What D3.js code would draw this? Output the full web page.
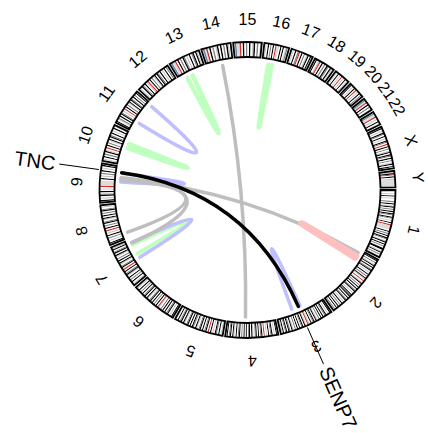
<!DOCTYPE html>
<html><head><meta charset="utf-8">
<script src="https://cdn.jsdelivr.net/npm/d3@7"></script>
<style>body{margin:0;background:#fff}svg{display:block}text{font-family:"Liberation Sans",Arial,Helvetica,sans-serif}</style>
</head><body><svg id="c" width="428" height="433"></svg>
<script>
// ---- data ----
const chromosomes = ["1","2","3","4","5","6","7","8","9","10","11","12","13","14","15","16","17","18","19","20","21","22","X","Y"];
const chromSizes = [249.25,243.20,198.02,191.15,180.92,171.12,159.14,146.36,141.21,135.53,135.01,133.85,115.17,107.35,102.53,90.35,81.20,78.08,59.13,63.03,48.13,51.30,155.27,59.37]; // Mb
// approximate G-band stain sequences (n gneg, l gpos25/50, m gpos75, k gpos100, r acen, v gvar, s stalk)
const bandPatterns = [
 "nlnlnknlnnmnknlknmnknkmnkmnlnknrvvvvnknmnknkmnlknknmnkknlknmnl",
 "nknmnlknknmknlnknmnklnrnlknmnknknmknlnkmknknmknlnknmnknknmn",
 "nknlnkmnknknmnlknkmnknlrnlknkmnknknmnlknmknkmnkln",
 "nknlnkmnknlnrnkmnknkmnlknkmnknknmnkmnknlknkmnkn",
 "nlnknmknlnknrnkmnknkmnlknmknknkmnlknkmnknl",
 "nknlnkmnknknmnlrnknmnknkmnlknkmnknmnknln",
 "nlnknmnknlkmnknrnkmnlknknmnlknkmnkln",
 "nknlnmnknlnrnknmnkmnlknknmnkmnln",
 "nknlnkmnknlnrvvvvnknlnmnknlnkn",
 "nlnknmnklnrnknmnlknkmnknlnknm",
 "nknlmnknkmnlnrnknmnlknkmnknmnkn",
 "nlnkmnknlrnknmnlknkmnknlnknmn",
 "vsvvrnknmnkmnlnknmknkln",
 "vsvrnknmnlknknmnkln",
 "vsvvrnknmnknlknmnl",
 "nlnknmnknrvvnknknlmn",
 "nlnknmrnknmnlknkn",
 "nknlrnknmnkmnkln",
 "nlnknlnrnlnknln",
 "nknlnknrnlnknmn",
 "vsvrnknmnl",
 "vsvvrnlnknl",
 "nknlnkmnknlnkmnrnknmnlknkmnknmnlknkn",
 "nlkrnknlvvvvvvv"
];
const bandColors = {n:"#ffffff", l:"#c8c8c8", m:"#828282", k:"#000000", r:"#d92f27", v:"#dcdcdc", s:"#647fa4"};

// links: chromosome / position (Mb) of both ends, colour, width (drawing order)
const linkChrA = ["13","16","10","7","2",  "11","9","7","3",  "9","9","9","14",  "2",  "9"];
const linkPosA = [32.4,26.2,72.9,93.1,23.5, 41.5,78.8,74.6,93.5, 91.6,87.0,96.2,63.8, 30.0, 117.8];
const linkChrB = ["13","16","10","7","2",  "11","9","7","3",  "2","8","7","4",  "2",  "3"];
const linkPosB = [56.4,40.9,90.4,134.5,30.9, 128.1,115.5,145.6,130.4, 13.4,22.4,142.8,119.4, 37.4, 101.1];
const linkColor = ["#bfffbf","#bfffbf","#bfffbf","#bfffbf","#bfffbf",
                   "#bfbfff","#bfbfff","#bfbfff","#bfbfff",
                   "#bebebe","#bebebe","#bebebe","#bebebe",
                   "#ffbfbf","#000000"];
const linkWidth = [4.5,4.5,4.5,4,5, 3.5,3.5,3.5,3.5, 3.5,3.5,3.5,3.5, 6.5, 3.5];

const geneNames = ["TNC","SENP7"];
const geneChr = ["9","3"];
const genePos = [117.8,101.1];

// ---- layout ----
const cx = 247.5, cy = 190;
const R_OUT = 148, R_IN = 133, R_LINK = 127, R_NAME = 171;
const GAP = 1;
const total = d3.sum(chromSizes);
const degPerMb = (360 - GAP*chromosomes.length)/total;
let acc = 0;
const chromStart = chromSizes.map(s => { const a = acc; acc += s*degPerMb + GAP; return a; });
const chromScale = {};
chromosomes.forEach((c,i) => {
  chromScale[c] = d3.scaleLinear().domain([0, chromSizes[i]]).range([chromStart[i], chromStart[i] + chromSizes[i]*degPerMb]);
});
const rad = d => d*Math.PI/180;
const toD3 = d => rad(d + 90);
const pt = (deg, r) => [cx + r*Math.cos(rad(deg)), cy + r*Math.sin(rad(deg))];

const svg = d3.select("#c");
svg.append("rect").attr("width",428).attr("height",433).attr("fill","#fff");

// ---- ideogram ----
const gI = svg.append("g").attr("transform", `translate(${cx},${cy})`);
const arc = d3.arc().innerRadius(R_IN).outerRadius(R_OUT);
chromosomes.forEach((c,i) => {
  const pat = bandPatterns[i], L = pat.length, size = chromSizes[i], sc = chromScale[c];
  let j = 0;
  while (j < L) {
    let e = j;
    while (e + 1 < L && pat[e+1] === pat[j]) e++;
    gI.append("path")
      .attr("d", arc({startAngle: toD3(sc(j*size/L)), endAngle: toD3(sc((e+1)*size/L))}))
      .attr("fill", bandColors[pat[j]]);
    j = e + 1;
  }
  gI.append("path")
    .attr("d", arc({startAngle: toD3(sc(0)), endAngle: toD3(sc(size))}))
    .attr("fill","none").attr("stroke","#000").attr("stroke-width",1.8);
});

// ---- chromosome names ----
chromosomes.forEach((c,i) => {
  const mid = chromScale[c](chromSizes[i]/2);
  const [x,y] = pt(mid, R_NAME);
  svg.append("text").attr("x",x).attr("y",y)
    .attr("text-anchor","middle").attr("dominant-baseline","central")
    .attr("font-size",16).attr("fill","#000")
    .attr("transform",`rotate(${mid+90},${x},${y})`).text(c);
});

// ---- links ----
const gL = svg.append("g");
linkChrA.forEach((ca,i) => {
  const a = chromScale[ca](linkPosA[i]);
  const b = chromScale[linkChrB[i]](linkPosB[i]);
  const p0 = pt(a, R_LINK), p2 = pt(b, R_LINK);
  const p = d3.path();
  p.moveTo(p0[0], p0[1]);
  p.quadraticCurveTo(cx, cy, p2[0], p2[1]);
  gL.append("path").attr("d", p.toString()).attr("fill","none")
    .attr("stroke", linkColor[i]).attr("stroke-width", linkWidth[i])
    .attr("stroke-linecap","round");
});

// ---- gene labels ----
geneNames.forEach((g,i) => {
  const a = chromScale[geneChr[i]](genePos[i]);
  const [x1,y1] = pt(a, 150), [x2,y2] = pt(a, 190);
  svg.append("line").attr("x1",x1).attr("y1",y1).attr("x2",x2).attr("y2",y2)
    .attr("stroke","#000").attr("stroke-width",1);
  const flip = Math.cos(rad(a)) < 0;
  const [tx,ty] = pt(a, 194);
  svg.append("text").attr("x",tx).attr("y",ty)
    .attr("text-anchor", flip ? "end" : "start").attr("dominant-baseline","central")
    .attr("font-size",20).attr("fill","#000")
    .attr("transform",`rotate(${flip ? a-180 : a},${tx},${ty})`).text(g);
});
</script></body></html>
